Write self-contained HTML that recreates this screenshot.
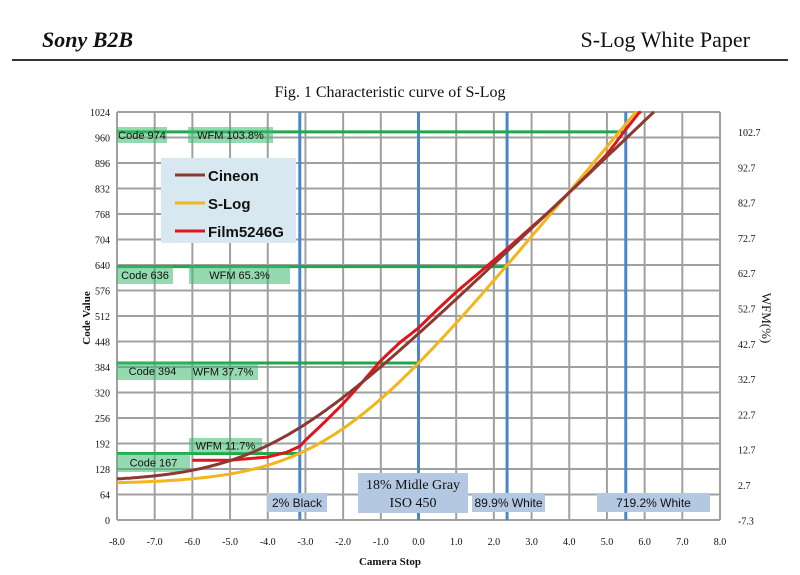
<!DOCTYPE html>
<html><head><meta charset="utf-8"><style>
body{margin:0;background:#fff;}
svg{display:block;font-family:"Liberation Serif",serif;}
</style></head><body>
<svg id="s" width="800" height="575" viewBox="0 0 800 575" xmlns="http://www.w3.org/2000/svg">
<rect width="800" height="575" fill="#fff"/>
<text x="42" y="47" font-size="22" font-style="italic" font-weight="bold" fill="#111">Sony B2B</text>
<text x="750" y="47" font-size="22" text-anchor="end" fill="#111">S-Log White Paper</text>
<rect x="12" y="59" width="776" height="2" fill="#333"/>
<text x="390" y="97" font-size="16" text-anchor="middle" fill="#111">Fig. 1 Characteristic curve of S-Log</text>
<g id="grid"></g>
<g id="boxes"></g>
<g id="curves"></g>
<g id="labels" font-size="10" fill="#111"></g>
</svg>
<script>
const NS="http://www.w3.org/2000/svg";
const X=s=>117+(s+8)*(603/16), Y=c=>520-c*(408/1024);
function el(p,t,a,txt){const e=document.createElementNS(NS,t);for(const k in a)e.setAttribute(k,a[k]);if(txt!==undefined)e.textContent=txt;document.getElementById(p).appendChild(e);return e;}
for(let s=-8;s<=8;s++){el("grid","line",{x1:X(s),x2:X(s),y1:Y(1024),y2:Y(0),stroke:"#a0a0a0","stroke-width":2});
 el("labels","text",{x:X(s),y:545,"text-anchor":"middle"},(s<0?"-":"")+Math.abs(s).toFixed(1));}
for(let c=0;c<=1024;c+=64){el("grid","line",{x1:X(-8),x2:X(8),y1:Y(c),y2:Y(c),stroke:"#a0a0a0","stroke-width":2});
 el("labels","text",{x:110,y:Y(c)+4,"text-anchor":"end"},c);}
const wf=["102.7","92.7","82.7","72.7","62.7","52.7","42.7","32.7","22.7","12.7","2.7","-7.3"];
wf.forEach((w,i)=>el("labels","text",{x:738,y:132+i*35.3+4},w));
el("labels","text",{x:390,y:565,"text-anchor":"middle","font-size":"11","font-weight":"bold"},"Camera Stop");
el("labels","text",{x:0,y:0,transform:"translate(90,318) rotate(-90)","text-anchor":"middle","font-size":"11","font-weight":"bold"},"Code Value");
el("labels","text",{x:0,y:0,transform:"translate(762,318) rotate(90)","text-anchor":"middle","font-size":"13"},"WFM(%)");
// blue verticals
[-3.15,0,2.35,5.5].forEach(s=>el("grid","line",{x1:X(s),x2:X(s),y1:Y(1024),y2:Y(0),stroke:"#4a86c8","stroke-width":3}));
// green lines
[[974,5.5],[636,2.35],[394,0],[167,-3.15]].forEach(([c,s])=>el("grid","line",{x1:117,x2:X(s),y1:Y(c),y2:Y(c),stroke:"#1fa84a","stroke-width":3}));
// green boxes
const gb=[[117,127,50,16,"Code  974"],[188,127,85,16,"WFM  103.8%"],[117,266,56,18,"Code  636"],[189,266,101,18,"WFM 65.3%"],
[117,362,71,18,"Code  394"],[188,363,70,17,"WFM  37.7%"],[189,438,73,15,"WFM  11.7%"],[117,453,73,19,"Code  167"]];
gb.forEach(([x,y,w,h,t])=>{el("boxes","rect",{x,y,width:w,height:h,fill:"rgba(60,185,110,0.55)"});
 el("boxes","text",{x:x+w/2,y:y+h/2+4,"text-anchor":"middle","font-size":"11","font-family":"Liberation Sans,sans-serif",fill:"#111"},t);});
// legend
el("boxes","rect",{x:161,y:158,width:135,height:85,fill:"#d8e8f0"});
[["#8b3a32","Cineon",175],["#f2b61c","S-Log",203],["#e0141c","Film5246G",231]].forEach(([c,t,y])=>{
 el("boxes","line",{x1:175,x2:205,y1:y,y2:y,stroke:c,"stroke-width":3});
 el("boxes","text",{x:208,y:y+6,"font-size":"15","font-weight":"bold","font-family":"Liberation Sans,sans-serif",fill:"#111"},t);});
// blue boxes
[[267,493,60,19,"2% Black"],[472,493,73,19,"89.9% White"],[597,493,113,19,"719.2% White"]].forEach(([x,y,w,h,t])=>{
 el("boxes","rect",{x,y,width:w,height:h,fill:"#b4c8e2"});
 el("boxes","text",{x:x+w/2,y:y+14,"text-anchor":"middle","font-size":"12","font-family":"Liberation Sans,sans-serif",fill:"#111"},t);});
el("boxes","rect",{x:358,y:473,width:110,height:40,fill:"#b4c8e2"});
el("boxes","text",{x:413,y:489,"text-anchor":"middle","font-size":"14",fill:"#111"},"18% Midle Gray");
el("boxes","text",{x:413,y:507,"text-anchor":"middle","font-size":"14",fill:"#111"},"ISO 450");
// curves
function path(f,a,b,col){let d="";for(let s=a;s<=b+1e-9;s+=0.05){let c=f(s);let y=Y(c);if(y<112){d+=(d?"L":"M")+X(s).toFixed(1)+","+"112";break;}d+=(d?"L":"M")+X(s).toFixed(1)+","+y.toFixed(1);}
 el("curves","path",{d,fill:"none",stroke:col,"stroke-width":3,"stroke-linejoin":"round"});}
const slog=s=>{const t=0.2*Math.pow(2,s);return (0.432699*Math.log10(t+0.037584)+0.646596)*876+64;};
const b=Math.pow(10,(95-685)/300);
const cin=s=>{const L=0.18*Math.pow(2,s);return 685+300*Math.log10(L*(1-b)+b);};
const fp=[[-6,150],[-5,150],[-4,158],[-3.5,170],[-3.15,185],[-3,200],[-2.5,245],[-2,292],[-1.5,345],[-1,400],[-0.5,445],[0,482],[0.5,528],[1,572],[1.5,612],[2,652],[2.5,693],[3,735],[3.5,777],[4,822],[4.5,868],[5,918],[5.5,980],[6,1040]];
const film=s=>{for(let i=0;i<fp.length-1;i++){if(s<=fp[i+1][0]){const[a0,a1]=fp[i],[b0,b1]=fp[i+1];return a1+(b1-a1)*(s-a0)/(b0-a0);}}return 1040;};
path(slog,-8,7,"#f2b61c");
path(film,-6,6.5,"#e0141c");
path(cin,-8,7,"#8b3a32");
</script>
</body></html>
